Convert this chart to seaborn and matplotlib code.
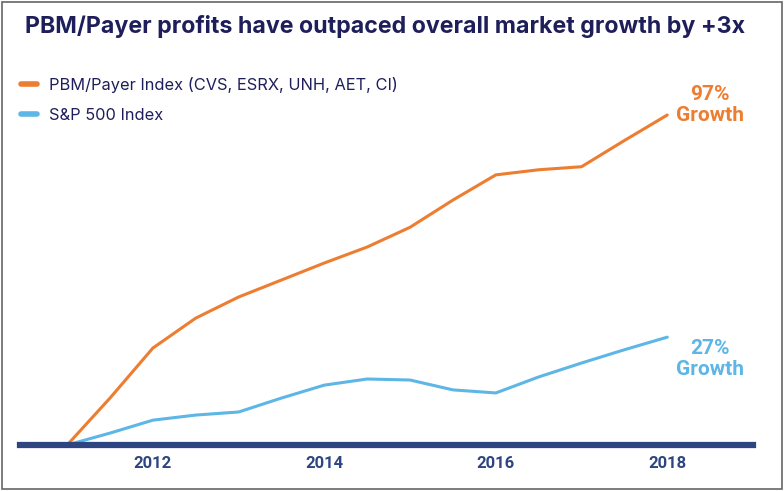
import pandas as pd
import matplotlib
matplotlib.use('Agg')
import matplotlib.pyplot as plt
from matplotlib.lines import Line2D
import seaborn as sns

# Datos (crecimiento acumulado, %)
anios = [2011, 2011.5, 2012, 2012.5, 2013, 2013.5, 2014, 2014.5,
         2015, 2015.5, 2016, 2016.5, 2017, 2017.5, 2018]
pbm_payer = [0, 13.8, 28.5, 37.3, 43.5, 48.5, 53.5, 58.2,
             64.0, 72.0, 79.4, 80.9, 81.8, 89.5, 97.0]
sp500 = [0, 3.5, 7.3, 8.8, 9.7, 13.8, 17.6, 19.4,
         19.1, 16.2, 15.3, 20.0, 24.1, 28.0, 31.7]
series = ['PBM/Payer Index (CVS, ESRX, UNH, AET, CI)', 'S&P 500 Index']
etiquetas_crecimiento = ['97%\nGrowth', '27%\nGrowth']
ticks_x = [2012, 2014, 2016, 2018]

naranja = '#ED7D31'
azul = '#5DB6E6'
marino = '#1E1F5A'
marino_eje = '#2D4580'

sns.set_theme(style='white')
plt.rcParams['font.family'] = ['Roboto', 'DejaVu Sans']

df = pd.DataFrame({
    'Año': anios * 2,
    'Crecimiento': pbm_payer + sp500,
    'Serie': [series[0]] * len(anios) + [series[1]] * len(anios),
})

fig = plt.figure(figsize=(7.84, 4.91), dpi=100)
fig.patch.set_facecolor('white')
ax = fig.add_axes([20 / 784, 46 / 491, 733 / 784, 340.2 / 491])

sns.lineplot(data=df, x='Año', y='Crecimiento', hue='Serie',
             palette={series[0]: naranja, series[1]: azul},
             linewidth=2.2, ax=ax, legend=False, zorder=2)

ax.set_xlim(2010.45, 2019.0)
ax.set_ylim(0, 100)
ax.set_xticks(ticks_x)
ax.set_xticklabels([str(t) for t in ticks_x], fontweight='bold',
                   fontsize=12, color=marino_eje)
ax.set_yticks([])
ax.set_xlabel('')
ax.set_ylabel('')
ax.tick_params(axis='x', length=0, pad=8)
for lado in ['top', 'right', 'left']:
    ax.spines[lado].set_visible(False)
ax.spines['bottom'].set_color(marino_eje)
ax.spines['bottom'].set_linewidth(4.5)
ax.spines['bottom'].set_zorder(5)
ax.set_facecolor('none')

# Etiquetas de crecimiento al final de cada serie
ax.text(2018.5, pbm_payer[-1] - 3, etiquetas_crecimiento[0], color=naranja,
        fontsize=15, fontweight='bold', ha='center', va='bottom', linespacing=1.15)
ax.text(2018.5, sp500[-1] - 12.3, etiquetas_crecimiento[1], color=azul,
        fontsize=15, fontweight='bold', ha='center', va='bottom', linespacing=1.15)

# Leyenda
handles = [Line2D([0], [0], color=naranja, lw=4), Line2D([0], [0], color=azul, lw=4)]
leg = fig.legend(handles, series, loc='upper left', bbox_to_anchor=(6 / 784, 1 - 62 / 491),
                 frameon=False, handlelength=1.0, handletextpad=0.75,
                 labelspacing=0.9, prop={'family': ['Inter', 'DejaVu Sans'], 'size': 11.8})
for t in leg.get_texts():
    t.set_color(marino)

# Titulo
fig.text(25 / 784, 1 - 33 / 491,
         'PBM/Payer profits have outpaced overall market growth by +3x',
         fontfamily=['Inter', 'DejaVu Sans'], fontweight='bold',
         fontsize=16.7, color=marino, ha='left', va='baseline')

# Marco
fig.patches.append(plt.Rectangle((2 / 784, 2 / 491), 780 / 784, 487 / 491,
                                 transform=fig.transFigure, fill=False,
                                 edgecolor='#666666', linewidth=1.2))

plt.savefig('out.png', dpi=100)
